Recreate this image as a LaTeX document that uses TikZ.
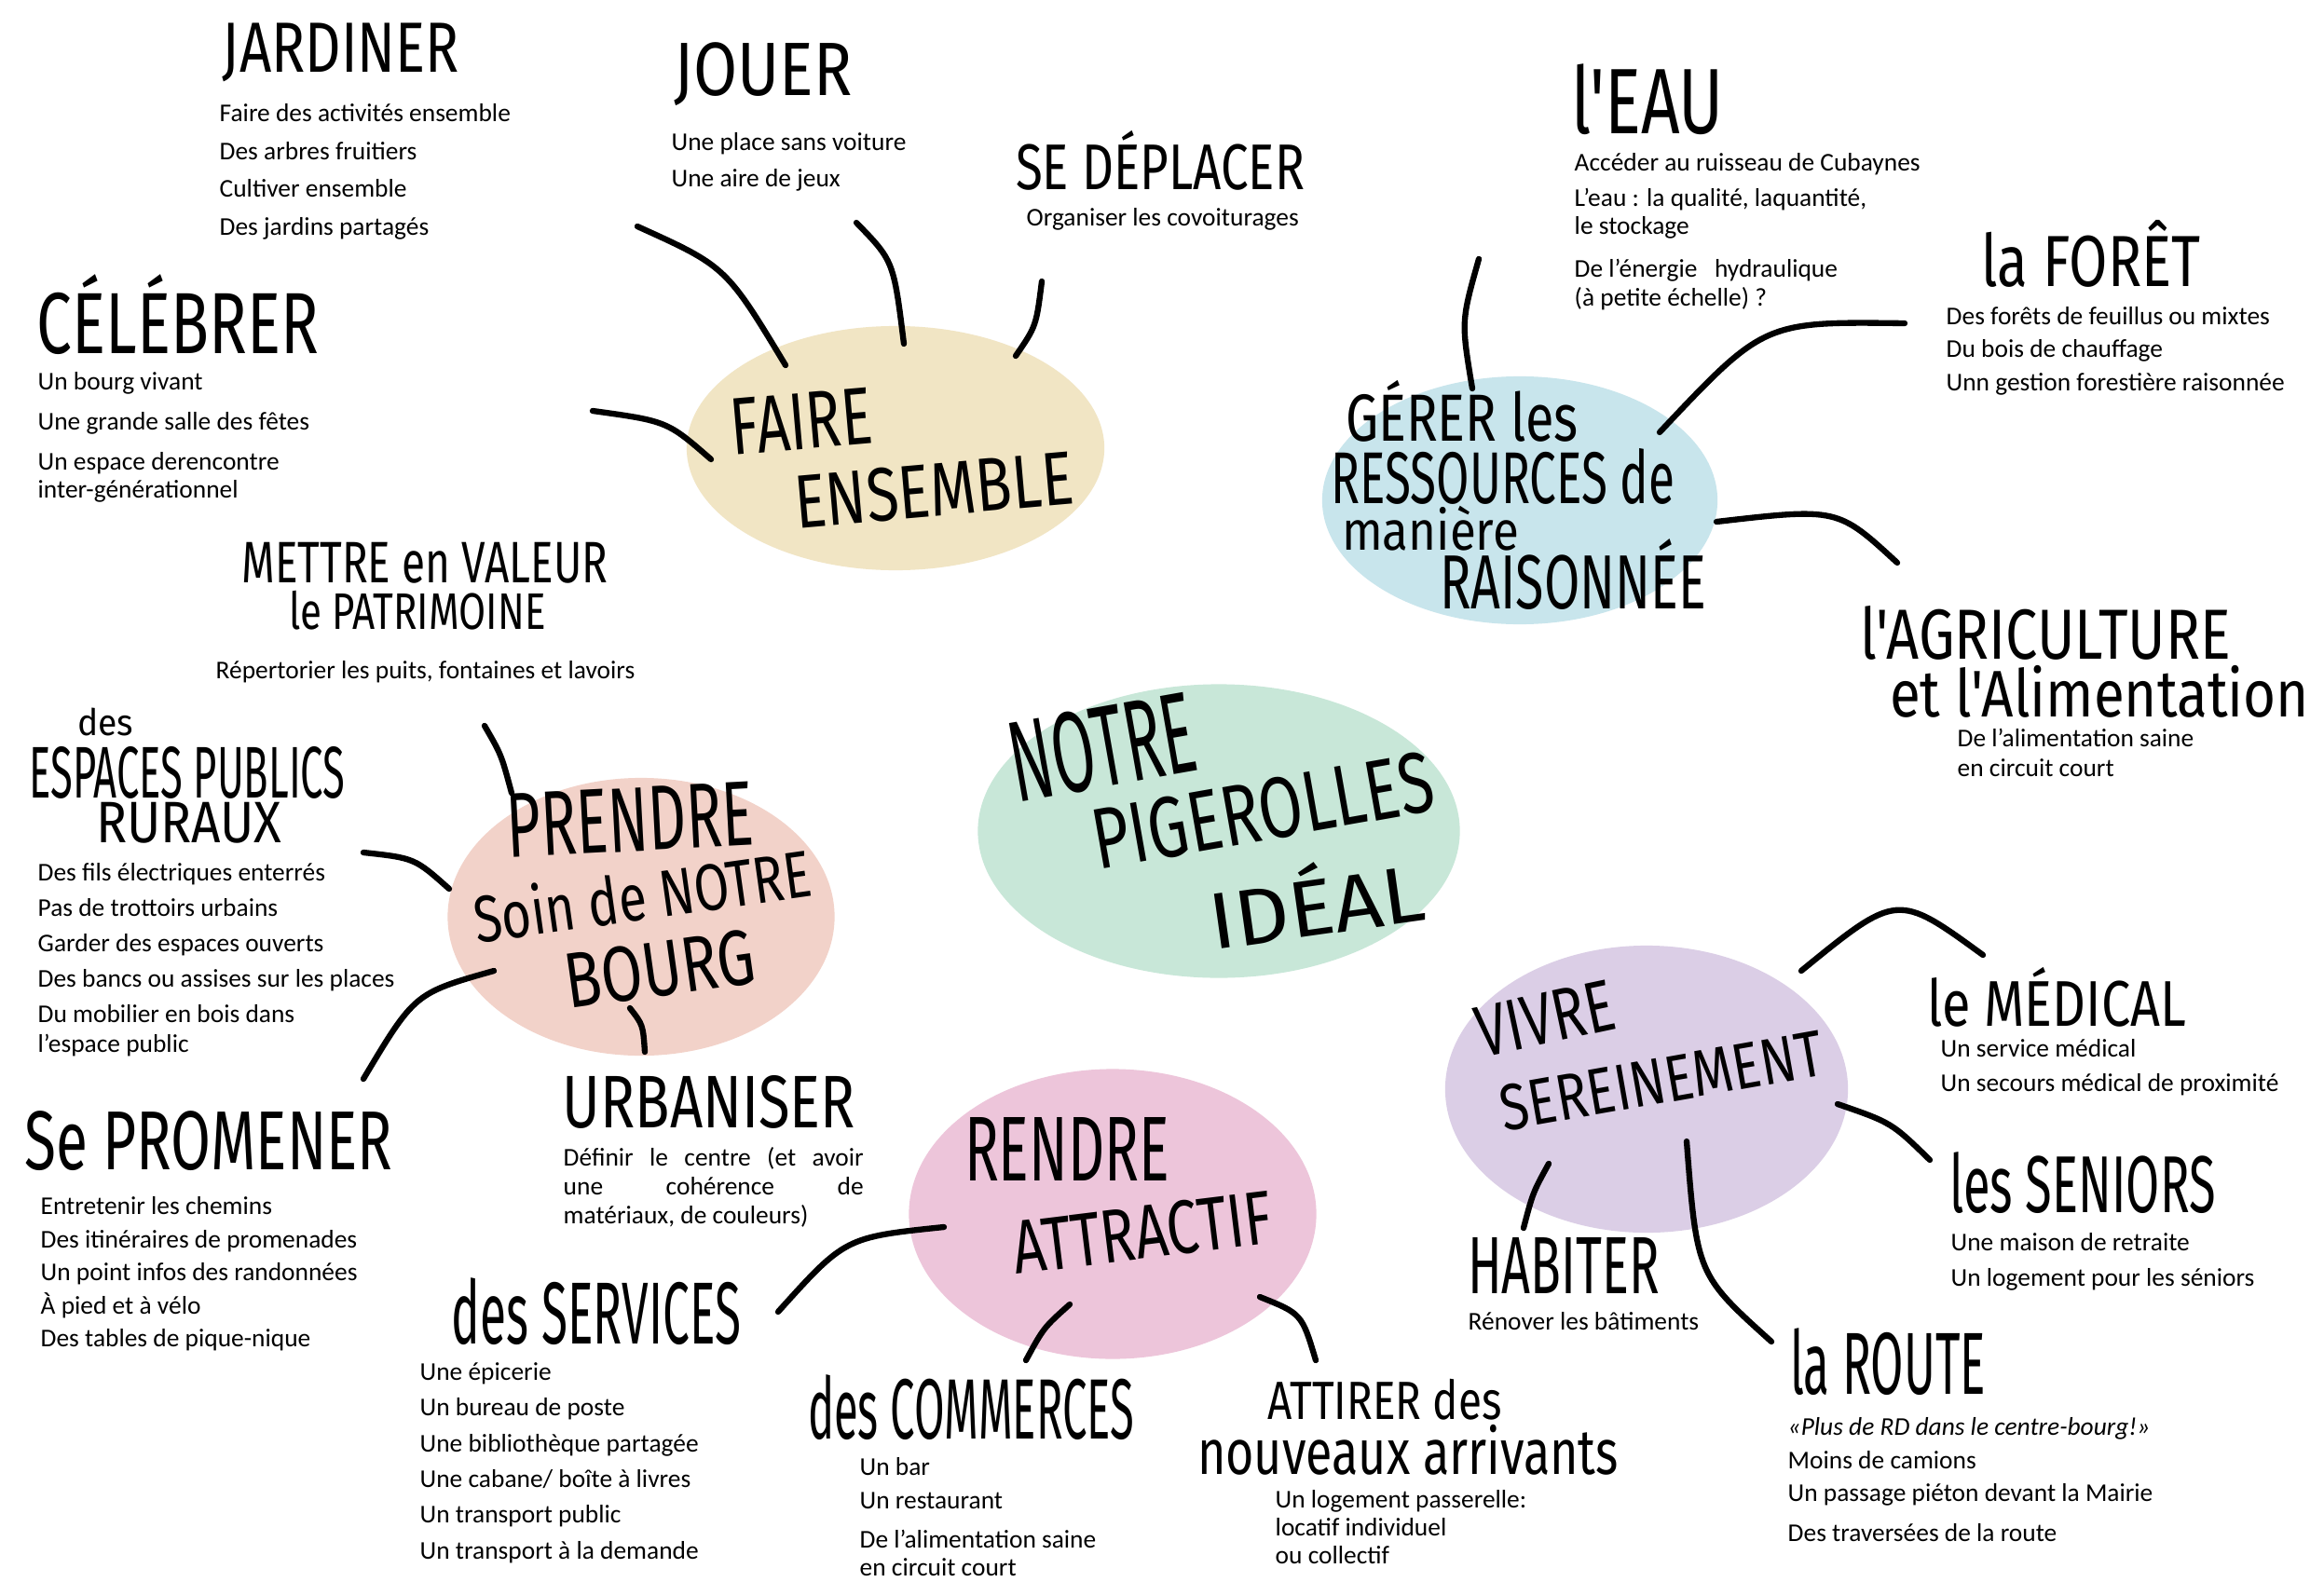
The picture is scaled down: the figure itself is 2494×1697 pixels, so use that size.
\documentclass[tikz,border=0pt]{standalone}
\usepackage{fontspec}
\usepackage{graphicx}
\setmainfont{Carlito}
\newfontfamily\hand{Fira Sans}
\usetikzlibrary{shapes.geometric,backgrounds}
\definecolor{cbeige}{RGB}{241,229,196}
\definecolor{cblue}{RGB}{200,229,236}
\definecolor{cmint}{RGB}{200,231,216}
\definecolor{csalmon}{RGB}{242,210,201}
\definecolor{cpink}{RGB}{237,197,218}
\definecolor{clav}{RGB}{219,206,230}
\newdimen\pxu \pxu=0.01cm
\newcommand{\hw}[3]{\resizebox*{#1\pxu}{#2\pxu}{\hand #3}}
\begin{document}
\begin{tikzpicture}[x=0.01cm,y=-0.01cm,
  blob/.style={ellipse,inner sep=0,draw=none},
  ttl/.style={inner sep=0},
  body/.style={inner sep=0,anchor=north west,align=left},
  twig/.style={line width=1.8pt,line cap=round},
  trunk/.style={line width=6pt,line cap=round}]
\useasboundingbox[fill=white] (0,0) rectangle (2494,1697);

% bubbles
\node[blob,fill=cbeige,minimum width=4.48cm,minimum height=2.62cm] (fe) at (961,481) {};
\node[blob,fill=cblue,minimum width=4.24cm,minimum height=2.66cm] (gr) at (1631,537) {};
\node[blob,fill=cmint,minimum width=5.17cm,minimum height=3.15cm] (ct) at (1308,892) {};
\node[blob,fill=csalmon,minimum width=4.15cm,minimum height=2.98cm] (ps) at (688,984) {};
\node[blob,fill=cpink,minimum width=4.37cm,minimum height=3.11cm] (ra) at (1194,1303) {};
\node[blob,fill=clav,minimum width=4.32cm,minimum height=3.08cm] (vs) at (1767,1169) {};

% trunks
\coordinate (fe1) at (1095,585); \coordinate (ct1) at (1195,770);
\coordinate (gr1) at (1500,630); \coordinate (ct2) at (1415,765);
\coordinate (ps1) at (880,910);  \coordinate (ct3) at (1065,915);
\coordinate (ra1) at (1120,1170); \coordinate (ct4) at (1195,1030);
\coordinate (ct5) at (1545,940); \coordinate (vs1) at (1745,1050);
\begin{scope}[on background layer]
\draw[trunk,cbeige] (fe1) .. controls (1165,640) .. (ct1);
\draw[trunk,cblue] (gr1) .. controls (1445,690) .. (ct2);
\draw[trunk,csalmon] (ps1) .. controls (975,885) .. (ct3);
\draw[trunk,cpink] (ra1) .. controls (1150,1090) .. (ct4);
\draw[trunk,clav] (ct5) .. controls (1690,950) .. (vs1);
\end{scope}

% bubble titles
\node[ttl,rotate=5] (fe-a) at (860,452) {\hw{152}{60}{FAIRE}};
\node[ttl,rotate=5] (fe-b) at (1002,526) {\hw{300}{58}{ENSEMBLE}};
\node[ttl] (gr-a) at (1569,441) {\hw{250}{66}{GÉRER les}};
\node[ttl] (gr-b) at (1613,511) {\hw{369}{60}{RESSOURCES de}};
\node[ttl] (gr-c) at (1535,567) {\hw{190}{48}{manière}};
\node[ttl] (gr-d) at (1688,616) {\hw{286}{76}{RAISONNÉE}};
\node[ttl,rotate=10] (ct-a) at (1183,802) {\hw{200}{88}{NOTRE}};
\node[ttl,rotate=10] (ct-b) at (1355,870) {\hw{370}{66}{PIGEROLLES}};
\node[ttl,rotate=8] (ct-c) at (1412,965) {\hw{232}{78}{IDÉAL}};
\node[ttl,rotate=3] (ps-a) at (676,880) {\hw{265}{68}{PRENDRE}};
\node[ttl,rotate=8] (ps-b) at (689,960) {\hw{365}{56}{Soin de NOTRE}};
\node[ttl,rotate=8] (ps-c) at (708,1040) {\hw{205}{60}{BOURG}};
\node[ttl] (ra-a) at (1145,1233) {\hw{220}{68}{RENDRE}};
\node[ttl,rotate=7] (ra-b) at (1226,1323) {\hw{280}{58}{ATTRACTIF}};
\node[ttl,rotate=12] (vs-a) at (1658,1093) {\hw{150}{54}{VIVRE}};
\node[ttl,rotate=10] (vs-b) at (1783,1160) {\hw{350}{50}{SEREINEMENT}};

% outer titles
\node[ttl] (tJard) at (366,56) {\hw{254}{63}{JARDINER}};
\node[ttl] (tJouer) at (819,80) {\hw{191}{68}{JOUER}};
\node[ttl] (tDepl) at (1245,172) {\hw{310}{64}{SE DÉPLACER}};
\node[ttl] (tCel) at (191,338) {\hw{302}{86}{CÉLÉBRER}};
\node[ttl] (tEau) at (1768,107) {\hw{164}{76}{l'EAU}};
\node[ttl] (tFor) at (2244,272) {\hw{235}{72}{la FORÊT}};
\node[ttl] (tAgr1) at (2195,679) {\hw{398}{58}{l'AGRICULTURE}};
\node[ttl] (tAgr2) at (2253,742) {\hw{450}{56}{et l'Alimentation}};
\node[ttl] (tPat1) at (456,604) {\hw{393}{44}{METTRE en VALEUR}};
\node[ttl] (tPat2) at (448,655) {\hw{275}{42}{le PATRIMOINE}};
\node[ttl] (tEsp1) at (113,775) {\hw{60}{30}{des}};
\node[ttl] (tEsp2) at (201,829) {\hw{339}{56}{ESPACES PUBLICS}};
\node[ttl] (tEsp3) at (203,883) {\hw{199}{44}{RURAUX}};
\node[ttl] (tProm) at (224,1225) {\hw{395}{64}{Se PROMENER}};
\node[ttl] (tUrb) at (761,1183) {\hw{314}{57}{URBANISER}};
\node[ttl] (tServ) at (640,1408) {\hw{310}{72}{des SERVICES}};
\node[ttl] (tComm) at (1042,1511) {\hw{350}{70}{des COMMERCES}};
\node[ttl] (tAtt1) at (1486,1502) {\hw{251}{44}{ATTIRER des}};
\node[ttl] (tAtt2) at (1511,1556) {\hw{452}{54}{nouveaux arrivants}};
\node[ttl] (tHab) at (1678,1358) {\hw{206}{60}{HABITER}};
\node[ttl] (tRou) at (2026,1462) {\hw{210}{72}{la ROUTE}};
\node[ttl] (tMed) at (2207,1070) {\hw{278}{64}{le MÉDICAL}};
\node[ttl] (tSen) at (2235,1270) {\hw{286}{66}{les SENIORS}};

% body texts
\node[body,font=\fontsize{7.8}{11.5}\selectfont] (bJard) at (235,111) {Faire des activités ensemble\\Des arbres fruitiers\\Cultiver ensemble\\Des jardins partagés};
\node[body,font=\fontsize{7.8}{11.1}\selectfont] (bJouer) at (720,142) {Une place sans voiture\\Une aire de jeux};
\node[body,font=\fontsize{7.8}{11}\selectfont] (bDepl) at (1101,223) {Organiser les covoiturages};
\node[body,font=\fontsize{7.8}{12.2}\selectfont] (bCel) at (40,399) {Un bourg vivant\\Une grande salle des fêtes\\Un espace derencontre\\[-3.7pt]inter-générationnel};
\node[body,font=\fontsize{7.8}{10.8}\selectfont] (bEau) at (1689,164) {Accéder au ruisseau de Cubaynes\\L’eau : la qualité, laquantité,\\[-2.3pt]le stockage\\[2.3pt]De l’énergie \ \ hydraulique\\[-2pt](à petite échelle) ?};
\node[body,font=\fontsize{7.8}{10}\selectfont] (bFor) at (2088,329) {Des forêts de feuillus ou mixtes\\Du bois de chauffage\\Unn gestion forestière raisonnée};
\node[body,font=\fontsize{7.8}{9.1}\selectfont] (bAgr) at (2100,781) {De l’alimentation saine\\en circuit court};
\node[body,font=\fontsize{7.8}{11}\selectfont] (bPat) at (231,709) {Répertorier les puits, fontaines et lavoirs};
\node[body,font=\fontsize{7.8}{10.8}\selectfont] (bEsp) at (40,926) {Des fils électriques enterrés\\Pas de trottoirs urbains\\Garder des espaces ouverts\\Des bancs ou assises sur les places\\Du mobilier en bois dans\\[-1.7pt]l’espace public};
\node[body,font=\fontsize{7.8}{10.1}\selectfont] (bProm) at (43,1284) {Entretenir les chemins\\Des itinéraires de promenades\\Un point infos des randonnées\\À pied et à vélo\\Des tables de pique-nique};
\node[body,font=\fontsize{7.8}{8.8}\selectfont] (bUrb) at (604,1231) {\makebox[322\pxu][s]{Définir le centre (et avoir}\\\makebox[322\pxu][s]{une cohérence de}\\matériaux, de couleurs)};
\node[body,font=\fontsize{7.8}{10.9}\selectfont] (bServ) at (450,1462) {Une épicerie\\Un bureau de poste\\Une bibliothèque partagée\\Une cabane/ boîte à livres\\Un transport public\\Un transport à la demande};
\node[body,font=\fontsize{7.8}{10.2}\selectfont] (bComm) at (922,1564) {Un bar\\Un restaurant\\[1.8pt]De l’alimentation saine\\[-1.7pt]en circuit court};
\node[body,font=\fontsize{7.8}{8.5}\selectfont] (bAtt) at (1368,1599) {Un logement passerelle:\\locatif individuel\\ou collectif};
\node[body,font=\fontsize{7.8}{11}\selectfont] (bHab) at (1575,1408) {Rénover les bâtiments};
\node[body,font=\fontsize{7.8}{10.1}\selectfont] (bRou) at (1918,1521) {\textit{«Plus de RD dans le centre-bourg!»}\\Moins de camions\\Un passage piéton devant la Mairie\\[2pt]Des traversées de la route};
\node[body,font=\fontsize{7.8}{10.5}\selectfont] (bMed) at (2082,1115) {Un service médical\\Un secours médical de proximité};
\node[body,font=\fontsize{7.8}{10.8}\selectfont] (bSen) at (2093,1323) {Une maison de retraite\\Un logement pour les séniors};

% twigs
\coordinate (jE) at (684,243); \coordinate (jS) at (843,392);
\coordinate (oE) at (919,239); \coordinate (oS) at (970,369);
\coordinate (dE) at (1118,302); \coordinate (dS) at (1090,382);
\coordinate (cE) at (636,441); \coordinate (cS) at (763,493);
\coordinate (eE) at (1587,278); \coordinate (eS) at (1580,417);
\coordinate (fE) at (2044,347); \coordinate (fS) at (1781,464);
\coordinate (aS) at (1842,560); \coordinate (aE) at (2036,604);
\coordinate (pE) at (520,779); \coordinate (pS) at (549,851);
\coordinate (sE) at (390,915); \coordinate (sS) at (482,954);
\coordinate (mS) at (530,1042); \coordinate (mE) at (390,1158);
\coordinate (uS) at (676,1082); \coordinate (uE) at (692,1129);
\coordinate (vS) at (1013,1317); \coordinate (vE) at (835,1408);
\coordinate (kS) at (1148,1400); \coordinate (kE) at (1101,1460);
\coordinate (tS) at (1352,1392); \coordinate (tE) at (1412,1460);
\coordinate (hS) at (1662,1249); \coordinate (hE) at (1635,1318);
\coordinate (rS) at (1810,1225); \coordinate (rE) at (1901,1440);
\coordinate (qS) at (1933,1042); \coordinate (qE) at (2128,1025);
\coordinate (nS) at (1972,1185); \coordinate (nE) at (2071,1245);
\draw[twig] (jE) .. controls (779,286) .. (jS);
\draw[twig] (oE) .. controls (959,280) .. (oS);
\draw[twig] (dE) .. controls (1112,350) .. (dS);
\draw[twig] (cE) .. controls (716,452) .. (cS);
\draw[twig] (eE) .. controls (1568,345) .. (eS);
\draw[twig] (fE) .. controls (1893,345) .. (fS);
\draw[twig] (aS) .. controls (1972,545) .. (aE);
\draw[twig] (pE) .. controls (538,810) .. (pS);
\draw[twig] (sE) .. controls (445,921) .. (sS);
\draw[twig] (mS) .. controls (445,1066) .. (mE);
\draw[twig] (uS) .. controls (690,1100) .. (uE);
\draw[twig] (vS) .. controls (907,1328) .. (vE);
\draw[twig] (kS) .. controls (1120,1425) .. (kE);
\draw[twig] (tS) .. controls (1397,1410) .. (tE);
\draw[twig] (hS) .. controls (1645,1280) .. (hE);
\draw[twig] (rS) .. controls (1821,1368) .. (rE);
\draw[twig] (qS) .. controls (2036,958) .. (qE);
\draw[twig] (nS) .. controls (2030,1205) .. (nE);
\end{tikzpicture}
\end{document}
